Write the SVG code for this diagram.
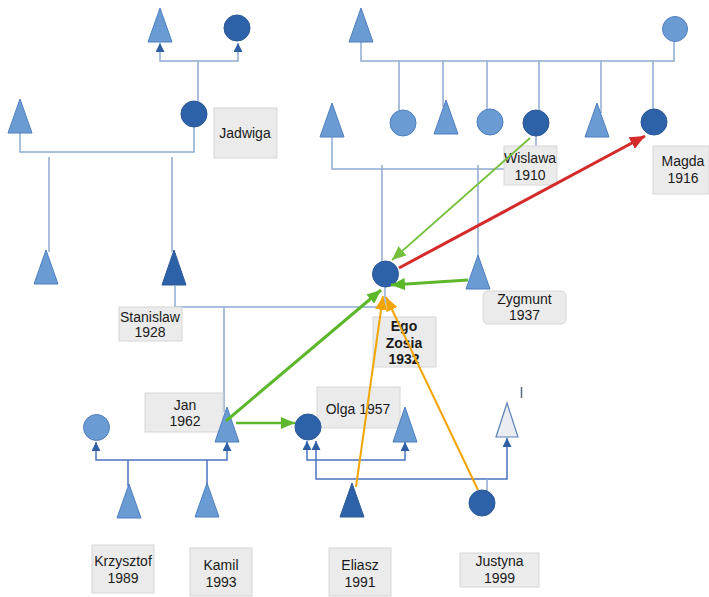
<svg xmlns="http://www.w3.org/2000/svg" width="709" height="597" viewBox="0 0 709 597">
<defs>
<style>
.lt{fill:#6b9bd3;stroke:#4f7fbf;stroke-width:1}
.dk{fill:#2e62a8;stroke:#2a5896;stroke-width:1}
.wt{fill:#e9edf2;stroke:#5a80b8;stroke-width:1.2}
.fl{fill:none;stroke:#8faad0;stroke-width:1.5}
.fl2{fill:none;stroke:#4a72c0;stroke-width:1.5}
.box{fill:#ebebeb;stroke:#d6d6d6;stroke-width:1}
text{font-family:"Liberation Sans",Arial,sans-serif;font-size:14px;fill:#1a1a1a;text-anchor:middle}
.b{font-weight:bold}
</style>
<marker id="up" markerUnits="userSpaceOnUse" markerWidth="9" markerHeight="9" viewBox="0 0 9 9" refX="9" refY="4.5" orient="auto-start-reverse"><path d="M0,0 L9,4.5 L0,9 z" fill="#2e5fa3"/></marker>
<marker id="ag" markerUnits="userSpaceOnUse" markerWidth="14" markerHeight="12" viewBox="0 0 14 12" refX="14" refY="6" orient="auto"><path d="M0,0 L14,6 L0,12 z" fill="#5cb82a"/></marker>
<marker id="agl" markerUnits="userSpaceOnUse" markerWidth="14" markerHeight="12" viewBox="0 0 14 12" refX="14" refY="6" orient="auto"><path d="M0,0 L14,6 L0,12 z" fill="#74c03a"/></marker>
<marker id="ar" markerUnits="userSpaceOnUse" markerWidth="15" markerHeight="13" viewBox="0 0 15 13" refX="15" refY="6.5" orient="auto"><path d="M0,0 L15,6.5 L0,13 z" fill="#d42a2a"/></marker>
<marker id="ao" markerUnits="userSpaceOnUse" markerWidth="14" markerHeight="12" viewBox="0 0 14 12" refX="14" refY="6" orient="auto"><path d="M0,0 L14,6 L0,12 z" fill="#f2a500"/></marker>
</defs>
<rect width="709" height="597" fill="#ffffff"/>

<g id="family-lines">
<path class="fl" d="M160,43 V61 H238 V43" marker-start="url(#up)" marker-end="url(#up)"/>
<path class="fl" d="M198,61 V101"/>
<path class="fl" d="M20,133 V152 H194 V127"/>
<path class="fl" d="M49,157 V252"/>
<path class="fl" d="M172,157 V252"/>
<path class="fl" d="M175,286 V307 H385 V287"/>
<path class="fl" d="M224,307 V412"/>
<path class="fl" d="M361,42 V61 H674 V42"/>
<path class="fl" d="M399,61 V110"/>
<path class="fl" d="M443,61 V107"/>
<path class="fl" d="M487,61 V109"/>
<path class="fl" d="M539,61 V110"/>
<path class="fl" d="M601,61 V113"/>
<path class="fl" d="M653,61 V109"/>
<path class="fl" d="M536,136 V146"/>
<path class="fl" d="M332,137 V169 H504"/>
<path class="fl" d="M382,165 V261"/>
<path class="fl" d="M478,165 V256"/>
<path class="fl2" d="M96,442 V460 H227 V442" marker-start="url(#up)" marker-end="url(#up)"/>
<path class="fl2" d="M128,460 V486"/>
<path class="fl2" d="M207,460 V497"/>
<path class="fl2" d="M307,441 V460 H405 V442" marker-start="url(#up)" marker-end="url(#up)"/>
<path class="fl2" d="M316,441 V479 H507 V438" marker-start="url(#up)" marker-end="url(#up)"/>
<path class="fl" d="M487,479 V491"/>
<path d="M521.5,387 V398" stroke="#5a6a80" stroke-width="1.5"/>
</g>

<g id="n-pgf"><polygon class="lt" points="160,8 148,42 172,42"/></g>
<g id="n-pgm"><circle class="dk" cx="237" cy="28" r="13"/></g>
<g id="n-jadwiga"><circle class="dk" cx="194" cy="114" r="13"/><rect class="box" x="214" y="108" width="63" height="50"/><text x="245" y="138">Jadwiga</text></g>
<g id="n-jadwiga-husband"><polygon class="lt" points="20,99 8,133 32,133"/></g>
<g id="n-sibling"><polygon class="lt" points="46,250 34,284 58,284"/></g>
<g id="n-stanislaw"><polygon class="dk" points="174,250 162,285 186,285"/><rect class="box" x="119" y="307" width="63" height="34"/><text x="150" y="322">Stanislaw</text><text x="150" y="337">1928</text></g>

<g id="n-mgf"><polygon class="lt" points="361,8 349,42 373,42"/></g>
<g id="n-mgm"><circle class="lt" cx="675" cy="29" r="12.5"/></g>
<g id="n-father"><polygon class="lt" points="332,103 320,137 344,137"/></g>
<g id="n-c1"><circle class="lt" cx="403" cy="123" r="13"/></g>
<g id="n-c2"><polygon class="lt" points="446,100 434,134 458,134"/></g>
<g id="n-c3"><circle class="lt" cx="490" cy="122" r="13"/></g>
<g id="n-wislawa"><circle class="dk" cx="536" cy="123" r="13"/><rect class="box" x="504" y="146" width="53" height="39"/><text x="530" y="163">Wislawa</text><text x="530" y="180">1910</text></g>
<g id="n-c5"><polygon class="lt" points="597,103 585,137 609,137"/></g>
<g id="n-magda"><circle class="dk" cx="654" cy="122" r="13"/><rect class="box" x="653" y="146" width="56" height="48"/><text x="683" y="166">Magda</text><text x="683" y="183">1916</text></g>

<g id="n-ego"><circle class="dk" cx="385.5" cy="274" r="13"/><rect class="box" x="373" y="317" width="63" height="50"/><text class="b" x="404" y="331">Ego</text><text class="b" x="404" y="348">Zosia</text><text class="b" x="404" y="364">1932</text></g>
<g id="n-zygmunt"><polygon class="lt" points="478,255 466,289 490,289"/><rect class="box" x="483" y="291" width="83" height="33" rx="5"/><text x="524.5" y="304">Zygmunt</text><text x="524.5" y="320">1937</text></g>

<g id="n-jan"><rect class="box" x="145" y="393" width="78" height="39"/><text x="185" y="410">Jan</text><text x="185" y="426">1962</text><polygon class="lt" points="227,407 215,442 239,442"/></g>
<g id="n-jan-wife"><circle class="lt" cx="96.5" cy="427.5" r="13"/></g>
<g id="n-krzysztof"><polygon class="lt" points="129,484 117,518 141,518"/><rect class="box" x="92" y="545" width="62" height="48"/><text x="123" y="566">Krzysztof</text><text x="123" y="583">1989</text></g>
<g id="n-kamil"><polygon class="lt" points="207,483 195,517 219,517"/><rect class="box" x="190" y="548" width="62" height="48"/><text x="221" y="570">Kamil</text><text x="221" y="587">1993</text></g>

<g id="n-olga"><rect class="box" x="317" y="387" width="83" height="41"/><text x="358" y="414">Olga 1957</text><circle class="dk" cx="308" cy="427" r="13"/></g>
<g id="n-olga-husband"><polygon class="lt" points="405,407 393,442 417,442"/></g>
<g id="n-unknown"><polygon class="wt" points="507,403 496,437 518,437"/></g>
<g id="n-eliasz"><polygon class="dk" points="352,483 340,517 364,517"/><rect class="box" x="329" y="548" width="62" height="48"/><text x="360" y="570">Eliasz</text><text x="360" y="587">1991</text></g>
<g id="n-justyna"><circle class="dk" cx="482" cy="503" r="13"/><rect class="box" x="460" y="553" width="79" height="34"/><text x="499.5" y="566">Justyna</text><text x="499.5" y="583">1999</text></g>

<g id="relations" fill="none">
<line x1="530" y1="138" x2="392" y2="260" stroke="#74c03a" stroke-width="1.8" marker-end="url(#agl)"/>
<line x1="399" y1="268" x2="645" y2="136" stroke="#d42a2a" stroke-width="3" marker-end="url(#ar)"/>
<line x1="468" y1="280" x2="391" y2="285" stroke="#5cb82a" stroke-width="3" marker-end="url(#ag)"/>
<line x1="226" y1="421" x2="381" y2="290" stroke="#5cb82a" stroke-width="3" marker-end="url(#ag)"/>
<line x1="236" y1="423" x2="295" y2="423" stroke="#5cb82a" stroke-width="2.5" marker-end="url(#ag)"/>
<line x1="356" y1="487" x2="383" y2="296" stroke="#f2a500" stroke-width="2" marker-end="url(#ao)"/>
<line x1="478" y1="490" x2="386" y2="297" stroke="#f2a500" stroke-width="2" marker-end="url(#ao)"/>
</g>
</svg>
